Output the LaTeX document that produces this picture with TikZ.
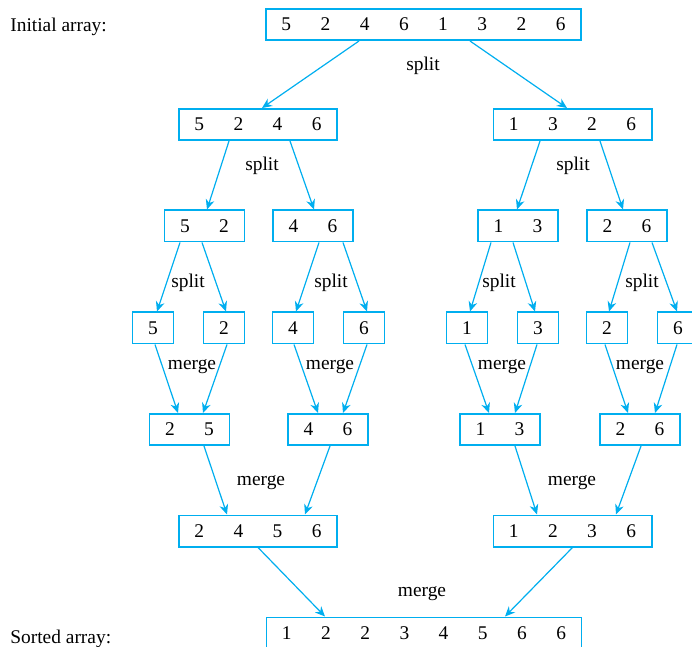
\documentclass[tikz,border=0pt]{standalone}
\usepackage{fontspec}
\setmainfont{Liberation Serif}
\usetikzlibrary{arrows.meta,calc}
\definecolor{sortblue}{RGB}{0,174,239}
\newcommand{\cell}[1]{\makebox[19.6pt]{#1}}

\begin{document}
\begin{tikzpicture}[x=0.5pt,y=-0.5pt,
	box/.style={draw=sortblue,line width=0.8pt,inner xsep=0.4pt,inner ysep=0pt,minimum height=15.7pt,font=\fontsize{9.7}{11}\selectfont},
	link/.style={draw=sortblue,line width=0.6pt,-{Stealth[length=5pt,width=4.4pt,inset=1.6pt]}},
	lbl/.style={font=\fontsize{9.7}{11}\selectfont}]
	\useasboundingbox (0,0) rectangle (692,647);

	% the arrays
	\node[box](top) at (423.5,24.5){\cell5\cell2\cell4\cell6\cell1\cell3\cell2\cell6};
	\node[box](L) at (258,124.5){\cell5\cell2\cell4\cell6};
	\node[box](R) at (572.5,124.5){\cell1\cell3\cell2\cell6};
	\node[box](LL) at (204.5,226){\cell5\cell2};
	\node[box](LR) at (313,226){\cell4\cell6};
	\node[box](RL) at (518,226){\cell1\cell3};
	\node[box](RR) at (627,226){\cell2\cell6};
	\node[box](a5) at (153,328){\cell5};
	\node[box](a2) at (224,328){\cell2};
	\node[box](a4) at (293,328){\cell4};
	\node[box](a6) at (364,328){\cell6};
	\node[box](b1) at (467,328){\cell1};
	\node[box](b3) at (538,328){\cell3};
	\node[box](b2) at (607,328){\cell2};
	\node[box](b6) at (678,328){\cell6};
	\node[box](m25) at (189.5,429.5){\cell2\cell5};
	\node[box](m46) at (328,429.5){\cell4\cell6};
	\node[box](m13) at (500,429.5){\cell1\cell3};
	\node[box](m26) at (640,429.5){\cell2\cell6};
	\node[box](mL) at (258,531){\cell2\cell4\cell5\cell6};
	\node[box](mR) at (572.5,531){\cell1\cell2\cell3\cell6};
	\node[box](out) at (424,633){\cell1\cell2\cell2\cell3\cell4\cell5\cell6\cell6};

	\node[lbl,anchor=west,inner sep=0pt](init) at (10,27){Initial array:};
	\node[lbl,anchor=west,inner sep=0pt](sorted) at (10,639){Sorted array:};

	% split
	\draw[link] ($(top.south)+(-64.5,0)$) -- ($(L.north)+(4,0)$);
	\draw[link] ($(top.south)+(46.5,0)$) -- ($(R.north)+(-5.5,0)$);
	\draw[link] ($(L.south)+(-29,0)$) -- ($(LL.north)+(2.5,0)$);
	\draw[link] ($(L.south)+(32,0)$) -- ($(LR.north)+(1,0)$);
	\draw[link] ($(R.south)+(-32.5,0)$) -- ($(RL.north)+(-1,0)$);
	\draw[link] ($(R.south)+(27.5,0)$) -- ($(RR.north)+(-4,0)$);
	\draw[link] ($(LL.south)+(-24.5,0)$) -- ($(a5.north)+(4,0)$);
	\draw[link] ($(LL.south)+(-2.5,0)$) -- ($(a2.north)+(2,0)$);
	\draw[link] ($(LR.south)+(6,0)$) -- ($(a4.north)+(3,0)$);
	\draw[link] ($(LR.south)+(30,0)$) -- ($(a6.north)+(3,0)$);
	\draw[link] ($(RL.south)+(-27,0)$) -- ($(b1.north)+(3,0)$);
	\draw[link] ($(RL.south)+(-5,0)$) -- ($(b3.north)+(-3,0)$);
	\draw[link] ($(RR.south)+(3,0)$) -- ($(b2.north)+(2,0)$);
	\draw[link] ($(RR.south)+(25,0)$) -- ($(b6.north)+(-1,0)$);

	% merge
	\draw[link] ($(a5.south)+(2,0)$) -- ($(m25.north)+(-11.5,0)$);
	\draw[link] ($(a2.south)+(3,0)$) -- ($(m25.north)+(13.5,0)$);
	\draw[link] ($(a4.south)+(1,0)$) -- ($(m46.north)+(-10,0)$);
	\draw[link] ($(a6.south)+(3,0)$) -- ($(m46.north)+(15,0)$);
	\draw[link] ($(b1.south)+(-2,0)$) -- ($(m13.north)+(-11,0)$);
	\draw[link] ($(b3.south)+(-1,0)$) -- ($(m13.north)+(15,0)$);
	\draw[link] ($(b2.south)+(-2,0)$) -- ($(m26.north)+(-12,0)$);
	\draw[link] ($(b6.south)+(-1,0)$) -- ($(m26.north)+(15,0)$);
	\draw[link] ($(m25.south)+(14.5,0)$) -- ($(mL.north)+(-31,0)$);
	\draw[link] ($(m46.south)+(2,0)$) -- ($(mL.north)+(47,0)$);
	\draw[link] ($(m13.south)+(15,0)$) -- ($(mR.north)+(-35.5,0)$);
	\draw[link] ($(m26.south)+(1,0)$) -- ($(mR.north)+(43.5,0)$);
	\draw[link] (mL.south) -- ($(out.north)+(-99,0)$);
	\draw[link] (mR.south) -- ($(out.north)+(81,0)$);

	% labels
	\node[lbl](s1) at (423,66){split};
	\node[lbl](s2) at (262,166){split};
	\node[lbl](s3) at (573,166){split};
	\node[lbl](s4) at (188,283){split};
	\node[lbl](s5) at (331,283){split};
	\node[lbl](s6) at (499,283){split};
	\node[lbl](s7) at (642,283){split};
	\node[lbl](g1) at (192,367){merge};
	\node[lbl](g2) at (330,367){merge};
	\node[lbl](g3) at (502,367){merge};
	\node[lbl](g4) at (640,367){merge};
	\node[lbl](g5) at (261,483){merge};
	\node[lbl](g6) at (572,483){merge};
	\node[lbl](g7) at (422,594){merge};
\end{tikzpicture}
\end{document}
